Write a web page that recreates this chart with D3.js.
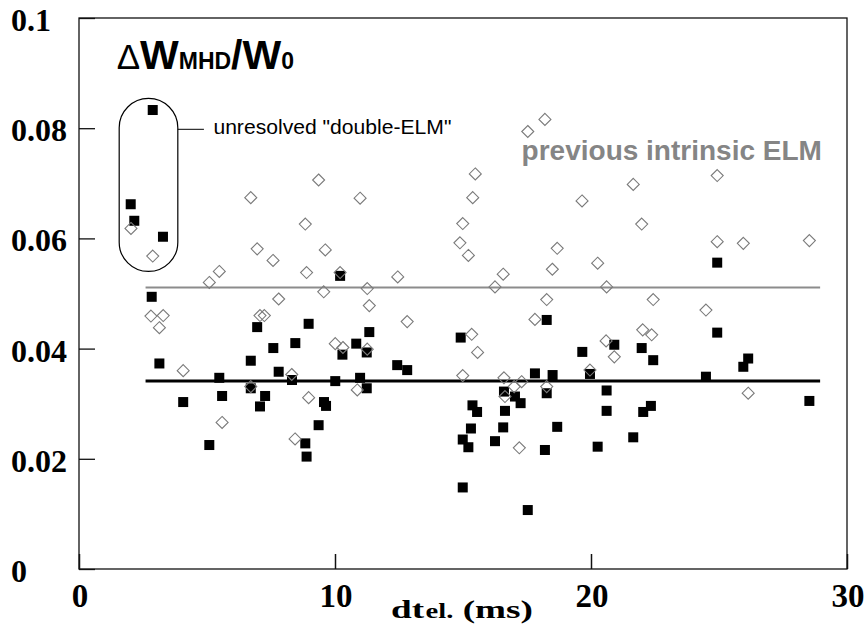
<!DOCTYPE html>
<html>
<head>
<meta charset="utf-8">
<script src="https://cdn.jsdelivr.net/npm/d3@7"></script>
<style>
  html, body { margin: 0; padding: 0; background: #fff; }
  svg { display: block; }
  .serif { font-family: "Liberation Serif", "Times New Roman", Tinos, "Nimbus Roman", Times, serif; }
  .sans { font-family: "Liberation Sans", Arial, Helvetica, sans-serif; }
</style>
</head>
<body>
<div id="container"></div>
<script>
const width = 866, height = 635;
const margin = { top: 18, right: 19, bottom: 66, left: 79 };
const iw = width - margin.left - margin.right;
const ih = height - margin.top - margin.bottom;

// --- Data --------------------------------------------------------------------
// Filled squares: ELM energy loss vs. time since previous ELM
const elmX = [2.02, 2.16, 3.28, 2.88, 2.84, 6.96, 8.97, 11.34, 7.59, 8.45, 10.83, 10.29, 11.24,
  3.14, 6.71, 7.80, 5.48, 8.32, 10.01, 10.98, 11.24, 6.71, 7.27, 5.59, 4.07, 9.57, 9.65, 7.07,
  9.36, 5.09, 8.84, 8.89, 10.20, 18.27, 14.91, 20.91, 19.66, 12.43, 12.82, 17.81, 18.50, 19.96,
  20.61, 16.60, 18.27, 17.03, 17.25, 15.37, 15.55, 16.64, 20.61, 15.31, 16.57, 18.68, 14.99,
  15.21, 16.25, 18.20, 20.26, 14.99, 17.53, 24.93, 24.93, 21.98, 22.43, 26.14, 25.95, 24.49,
  22.34, 22.04, 21.65, 28.53];
const elmY = [0.0662, 0.0632, 0.0603, 0.0833, 0.0494, 0.0439, 0.0445, 0.0430, 0.0401, 0.0410,
  0.0409, 0.0389, 0.0393, 0.0373, 0.0378, 0.0358, 0.0347, 0.0343, 0.0341, 0.0347, 0.0328,
  0.0328, 0.0314, 0.0314, 0.0303, 0.0303, 0.0296, 0.0295, 0.0261, 0.0225, 0.0228, 0.0204,
  0.0532, 0.0452, 0.0420, 0.0407, 0.0394, 0.0370, 0.0361, 0.0355, 0.0352, 0.0354, 0.0324,
  0.0322, 0.0319, 0.0313, 0.0301, 0.0297, 0.0285, 0.0287, 0.0287, 0.0255, 0.0257, 0.0258,
  0.0235, 0.0221, 0.0232, 0.0216, 0.0222, 0.0148, 0.0107, 0.0556, 0.0429, 0.0401, 0.0379,
  0.0382, 0.0367, 0.0349, 0.0296, 0.0285, 0.0239, 0.0305];

// Open diamonds: the previous (intrinsic) ELM
const prevX = [2.03, 2.88, 8.84, 9.36, 6.71, 10.98, 6.96, 9.62, 7.58, 8.89, 5.48, 5.09, 10.20,
  11.26, 9.56, 7.80, 11.34, 2.81, 3.29, 3.14, 7.07, 7.24, 10.01, 10.31, 11.26, 4.07, 8.31, 6.71,
  10.87, 8.97, 5.59, 8.44, 18.20, 17.53, 15.48, 15.38, 14.99, 14.88, 19.65, 21.65, 15.21, 12.45,
  18.68, 18.49, 20.26, 16.57, 16.25, 20.61, 18.27, 12.82, 17.81, 15.34, 15.57, 20.59, 20.91,
  14.99, 16.60, 19.96, 17.29, 17.00, 18.27, 16.64, 17.20, 24.93, 21.98, 24.93, 25.95, 28.53,
  22.43, 24.49, 22.02, 22.37, 26.14];
const prevY = [0.0618, 0.0568, 0.0626, 0.0706, 0.0674, 0.0673, 0.0581, 0.0579, 0.0560, 0.0538,
  0.0540, 0.0520, 0.0538, 0.0509, 0.0503, 0.0490, 0.0478, 0.0459, 0.0460, 0.0438, 0.0460,
  0.0460, 0.0409, 0.0402, 0.0399, 0.0360, 0.0353, 0.0331, 0.0325, 0.0311, 0.0266, 0.0236,
  0.0816, 0.0794, 0.0717, 0.0674, 0.0627, 0.0592, 0.0668, 0.0698, 0.0569, 0.0530, 0.0582,
  0.0544, 0.0555, 0.0535, 0.0512, 0.0512, 0.0489, 0.0449, 0.0453, 0.0426, 0.0393, 0.0414,
  0.0385, 0.0351, 0.0347, 0.0361, 0.0340, 0.0331, 0.0331, 0.0313, 0.0220, 0.0714, 0.0626,
  0.0594, 0.0591, 0.0596, 0.0489, 0.0470, 0.0434, 0.0425, 0.0319];

// Mean levels drawn as horizontal lines
const meanElm = 0.0341;
const meanPrev = 0.0511;
const meanRange = [2.6, 28.95];

const xTicks = [0, 10, 20, 30];
const yTicks = [0, 0.02, 0.04, 0.06, 0.08, 0.1];
const yTickLabels = ["0", "0.02", "0.04", "0.06", "0.08", "0.1"];

// --- Scales --------------------------------------------------------------------
const x = d3.scaleLinear().domain([0, 30]).range([0, iw]);
const y = d3.scaleLinear().domain([0, 0.1]).range([ih, 0]);

const svg = d3.select("#container").append("svg").attr("width", width).attr("height", height);
const g = svg.append("g").attr("transform", `translate(${margin.left},${margin.top})`);

// --- Frame + inward ticks --------------------------------------------------------
g.append("rect")
  .attr("width", iw)
  .attr("height", ih)
  .attr("fill", "none")
  .attr("stroke", "#111")
  .attr("stroke-width", 1.3);

const yAxis = g.append("g").call(d3.axisLeft(y).tickValues(yTicks).tickSize(-16).tickFormat(""));
yAxis.select(".domain").remove();
yAxis.selectAll("line").attr("stroke", "#111").attr("stroke-width", 1.3);

const xAxis = g.append("g")
  .attr("transform", `translate(0,${ih})`)
  .call(d3.axisBottom(x).tickValues(xTicks).tickSize(-15).tickFormat(""));
xAxis.select(".domain").remove();
xAxis.selectAll("line").attr("stroke", "#111").attr("stroke-width", 1.5);

// tick labels: bold serif, y labels left-aligned at page edge
svg.selectAll("text.ylab")
  .data(yTicks)
  .join("text")
  .attr("class", "ylab serif")
  .attr("x", 11)
  .attr("y", (d, i) => margin.top + y(d) + 13)
  .style("font-weight", "bold")
  .style("font-size", "32px")
  .attr("fill", "#000")
  .text((d, i) => yTickLabels[i]);

svg.selectAll("text.xlab")
  .data(xTicks)
  .join("text")
  .attr("class", "xlab serif")
  .attr("x", (d) => margin.left + x(d) + 1)
  .attr("y", 607)
  .attr("text-anchor", "middle")
  .style("font-weight", "bold")
  .style("font-size", "33px")
  .attr("fill", "#000")
  .text((d) => d);

// x-axis title "dt el. (ms)", drawn wide as in the original
const xt = svg.append("text")
  .attr("class", "serif")
  .attr("x", 391)
  .attr("y", 618)
  .attr("textLength", 142)
  .attr("lengthAdjust", "spacingAndGlyphs")
  .style("font-weight", "bold")
  .style("font-size", "26px")
  .attr("fill", "#000");
xt.append("tspan").text("dt");
xt.append("tspan").style("font-size", "20px").attr("dx", 1).text("el.");
xt.append("tspan").text(" (ms)");

// --- Mean lines -----------------------------------------------------------------
g.append("line")
  .attr("x1", x(meanRange[0])).attr("x2", x(meanRange[1]))
  .attr("y1", y(meanPrev)).attr("y2", y(meanPrev))
  .attr("stroke", "#8c8c8c")
  .attr("stroke-width", 2);

g.append("line")
  .attr("x1", x(meanRange[0])).attr("x2", x(meanRange[1]))
  .attr("y1", y(meanElm)).attr("y2", y(meanElm))
  .attr("stroke", "#000")
  .attr("stroke-width", 3);

// --- Markers: squares first, open diamonds on top --------------------------------
const sq = 10;
g.selectAll("rect.elm")
  .data(elmX.map((v, i) => [v, elmY[i]]))
  .join("rect")
  .attr("class", "elm")
  .attr("x", (d) => x(d[0]) - sq / 2)
  .attr("y", (d) => y(d[1]) - sq / 2)
  .attr("width", sq)
  .attr("height", sq)
  .attr("fill", "#000");

const dm = 6;
g.selectAll("path.prev")
  .data(prevX.map((v, i) => [v, prevY[i]]))
  .join("path")
  .attr("class", "prev")
  .attr("d", (d) => {
    const cx = x(d[0]), cy = y(d[1]);
    return `M${cx},${cy - dm}L${cx + dm},${cy}L${cx},${cy + dm}L${cx - dm},${cy}Z`;
  })
  .attr("fill", "none")
  .attr("stroke", "#7a7a7a")
  .attr("stroke-width", 1.1);

// --- Capsule around the unresolved "double-ELM" points ---------------------------
const capX = [1.57, 3.86];
const capY = [0.0854, 0.0540];
const capW = x(capX[1]) - x(capX[0]);
g.append("rect")
  .attr("x", x(capX[0]))
  .attr("y", y(capY[0]))
  .attr("width", capW)
  .attr("height", y(capY[1]) - y(capY[0]))
  .attr("rx", capW / 2)
  .attr("ry", capW / 2)
  .attr("fill", "none")
  .attr("stroke", "#000")
  .attr("stroke-width", 1.2);

g.append("line")
  .attr("x1", x(capX[1])).attr("x2", x(4.88))
  .attr("y1", y(0.0798)).attr("y2", y(0.0798))
  .attr("stroke", "#000")
  .attr("stroke-width", 1);

g.append("text")
  .attr("class", "sans")
  .attr("x", x(5.25))
  .attr("y", y(0.0789))
  .style("font-size", "20px")
  .attr("textLength", 238)
  .attr("lengthAdjust", "spacingAndGlyphs")
  .attr("fill", "#000")
  .text("unresolved \"double-ELM\"");

g.append("text")
  .attr("class", "sans")
  .attr("x", x(17.29))
  .attr("y", y(0.0742))
  .style("font-weight", "bold")
  .style("font-size", "28px")
  .attr("fill", "#858585")
  .text("previous intrinsic ELM");

// --- Panel title ΔW_MHD/W_0 --------------------------------------------------------
const title = g.append("text")
  .attr("class", "sans")
  .attr("x", x(1.47))
  .attr("y", y(0.0907))
  .style("font-weight", "bold")
  .style("font-size", "41px")
  .attr("fill", "#000");
title.append("tspan").style("font-weight", "normal").style("font-size", "35px").text("\u0394");
title.append("tspan").text("W");
title.append("tspan").style("font-size", "23px").text("MHD");
title.append("tspan").text("/W");
title.append("tspan").style("font-size", "23px").text("0");
</script>
</body>
</html>
